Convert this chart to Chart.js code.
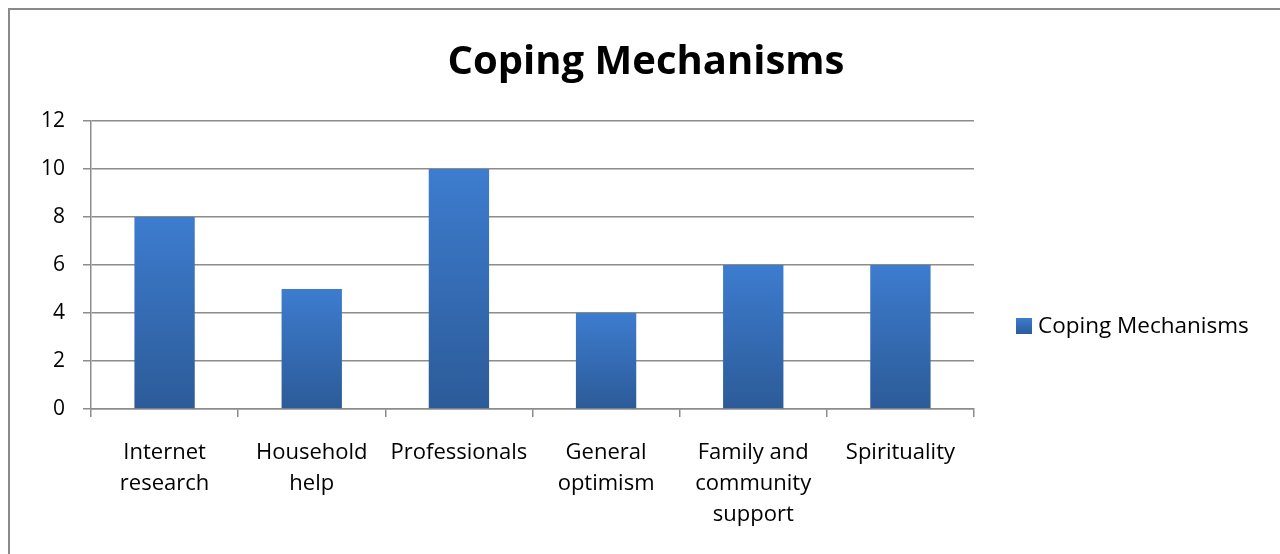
<!DOCTYPE html>
<html lang="en">
<head>
    <meta charset="UTF-8">
    <title>Coping Mechanisms</title>
    <style>
        body {
    margin: 0;
    background: #ffffff;
    overflow: hidden;
}

.frame {
    position: absolute;
    left: 8px;
    top: 8px;
    width: 1300px;
    height: 600px;
    border: 2px solid #8a8a8a; /* grey outline, cut off on right and bottom */
}

.chart-box {
    position: absolute;
    left: 0;
    top: 0;
    width: 1280px;
    height: 554px;
}
    </style>
    <script src="https://cdn.jsdelivr.net/npm/chart.js"></script>
</head>
<body>
    <div class="frame"></div>
    <div class="chart-box">
        <canvas id="copingChart"></canvas>
    </div>

    <script>
        // data
        const categories = [
            ['Internet', 'research'],
            ['Household', 'help'],
            'Professionals',
            ['General', 'optimism'],
            ['Family and', 'community', 'support'],
            'Spirituality'
        ];
        const copingValues = [8, 5, 10, 4, 6, 6];
        const seriesName = 'Coping Mechanisms';
        const chartTitle = 'Coping Mechanisms';
        const yTicks = [0, 2, 4, 6, 8, 10, 12];

        const FONT = "'Open Sans', 'Liberation Sans', sans-serif";
        const GRID = '#8c8c8c';

        function barGradient(ctx, top, bottom) {
            const g = ctx.createLinearGradient(0, top, 0, bottom);
            g.addColorStop(0, '#3d7ccf');
            g.addColorStop(1, '#2c5b98');
            return g;
        }

        // title + legend drawn by hand so they sit where the original has them
        const extras = {
            id: 'extras',
            afterDraw(chart) {
                const ctx = chart.ctx;
                ctx.save();
                ctx.fillStyle = '#000';
                ctx.font = "bold 40px " + FONT;
                ctx.textAlign = 'center';
                ctx.textBaseline = 'middle';
                ctx.fillText(chartTitle, 646, 63);

                ctx.fillStyle = barGradient(ctx, 318, 334);
                ctx.fillRect(1016, 318, 16, 16);
                ctx.fillStyle = '#000';
                ctx.font = "22.5px " + FONT;
                ctx.textAlign = 'left';
                ctx.fillText(seriesName, 1038, 327);
                ctx.restore();
            }
        };

        const ctxCoping = document.getElementById('copingChart').getContext('2d');
        const copingChart = new Chart(ctxCoping, {
            type: 'bar',
            data: {
                labels: categories,
                datasets: [{
                    label: seriesName,
                    data: copingValues,
                    backgroundColor: function (c) {
                        const chart = c.chart;
                        if (!chart.chartArea || c.dataIndex === undefined) return '#3569b3';
                        const y = chart.scales.y;
                        return barGradient(chart.ctx, y.getPixelForValue(copingValues[c.dataIndex]), y.getPixelForValue(0));
                    },
                    borderWidth: 0,
                    categoryPercentage: 1,
                    barPercentage: 0.41
                }]
            },
            options: {
                responsive: true,
                maintainAspectRatio: false,
                animation: false,
                layout: {
                    padding: { top: 121, right: 306, bottom: 0, left: 0 }
                },
                plugins: {
                    legend: { display: false },
                    title: { display: false },
                    tooltip: { enabled: false }
                },
                scales: {
                    y: {
                        min: 0,
                        max: 12,
                        afterFit(scale) { scale.width = 91; },
                        afterBuildTicks(scale) { scale.ticks = yTicks.map(v => ({ value: v })); },
                        ticks: {
                            color: '#000',
                            padding: 18,
                            font: { family: FONT, size: 21 }
                        },
                        grid: { color: GRID, lineWidth: 1.5, tickLength: 8 },
                        border: { color: GRID, width: 1.5 }
                    },
                    x: {
                        afterFit(scale) { scale.height = 145; },
                        ticks: {
                            color: '#000',
                            padding: 20,
                            maxRotation: 0,
                            autoSkip: false,
                            font: { family: FONT, size: 22, lineHeight: 1.42 }
                        },
                        grid: { offset: true, drawOnChartArea: false, color: GRID, lineWidth: 1.5, tickLength: 8 },
                        border: { color: GRID, width: 1.5 }
                    }
                }
            },
            plugins: [extras]
        });
    </script>
</body>
</html>
